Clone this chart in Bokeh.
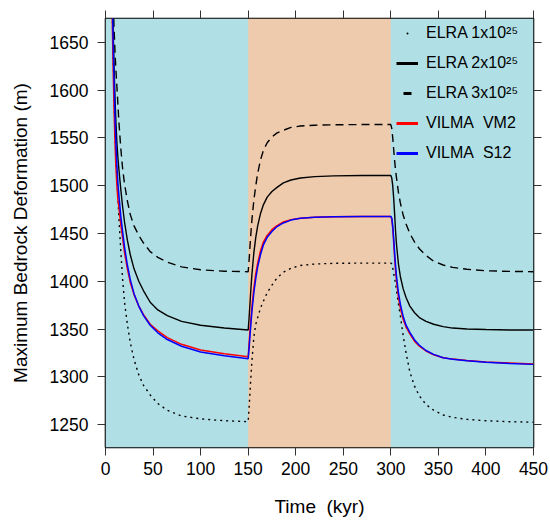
from bokeh.plotting import figure
from bokeh.models import (BoxAnnotation, Legend, LegendItem, LinearAxis,
                          FixedTicker, ColumnDataSource, Range1d)
from bokeh.embed import file_html
from bokeh.resources import INLINE

# ---------------- data ----------------
time_kyr = [6, 7, 8, 9, 10, 11, 12, 13, 14, 16, 18, 20, 23, 26, 30, 35, 40, 47, 55, 65, 80, 100, 125, 150,
            151, 152, 153, 154, 156, 158, 160, 163, 166, 170, 175, 180, 187, 195, 205, 220, 240, 270, 300,
            301, 302, 303, 304, 305, 306, 308, 310, 313, 316, 320, 325, 330, 337, 345, 355, 365, 380, 400, 425, 450]

elra_1e25 = [1760, 1690, 1640, 1595, 1558, 1530, 1508, 1490, 1468, 1433, 1402, 1378, 1355, 1336, 1318, 1302, 1291, 1281, 1272, 1265, 1259, 1256, 1254, 1253,
             1268, 1285, 1302, 1317, 1342, 1355, 1362, 1372, 1379, 1388, 1396, 1403, 1409.5, 1413.5, 1416.5, 1418, 1418.8, 1419, 1419,
             1418, 1414, 1408, 1403, 1397, 1390, 1376, 1364, 1343, 1325, 1305, 1290, 1280, 1271, 1265, 1260, 1257.5, 1255.5, 1254, 1253, 1252.5]

elra_2e25 = [1760, 1710, 1665, 1625, 1592, 1565, 1545, 1530, 1518, 1497, 1478, 1462, 1443, 1428, 1413, 1400, 1390, 1378, 1370, 1364, 1358, 1354, 1351, 1349,
             1362, 1378, 1394, 1408, 1430, 1446, 1458, 1471, 1480, 1488, 1494, 1498, 1503, 1506, 1508, 1509.5, 1510.3, 1510.7, 1510.7,
             1508, 1500, 1487, 1470, 1452, 1438, 1418, 1405, 1392, 1383, 1374, 1367, 1362, 1358, 1355, 1352.5, 1351, 1350, 1349.5, 1349, 1349]

elra_3e25 = [1770, 1730, 1695, 1665, 1640, 1620, 1604, 1586, 1568, 1540, 1518, 1502, 1484, 1470, 1458, 1448, 1440, 1431, 1425, 1420, 1415, 1412, 1410.5, 1410,
             1422, 1438, 1452, 1465, 1485, 1500, 1513, 1527, 1537, 1545, 1551, 1555, 1558, 1561, 1562.5, 1563.3, 1563.8, 1564, 1564,
             1560, 1550, 1538, 1526, 1516, 1508, 1493, 1482, 1469, 1460, 1450, 1441, 1434, 1427, 1421, 1417, 1414.5, 1412.5, 1411, 1410.3, 1410]

vilma_vm2 = [1740, 1680, 1625, 1580, 1545, 1518, 1500, 1486, 1478, 1460, 1445, 1430, 1413, 1399, 1386, 1374, 1365, 1355, 1348, 1341, 1334, 1328, 1324, 1321,
             1335, 1350, 1362, 1374, 1393, 1408, 1419, 1432, 1441, 1448, 1454, 1458, 1462, 1464.5, 1466, 1467, 1467.6, 1467.8, 1467.8,
             1465, 1455, 1440, 1424, 1410, 1400, 1383, 1372, 1360, 1352, 1345, 1337, 1332, 1327, 1323, 1320, 1318.5, 1317, 1315.5, 1314.5, 1313.5]

vilma_s12 = [1760, 1705, 1650, 1610, 1572, 1543, 1521, 1503, 1491, 1469, 1452, 1436, 1417, 1402, 1387, 1374, 1364, 1354, 1346, 1339, 1332, 1326, 1322, 1319,
             1330, 1344, 1357, 1369, 1388, 1403, 1415, 1428, 1438, 1446, 1452, 1457, 1461, 1464, 1466, 1467, 1467.6, 1467.8, 1467.8,
             1466, 1458, 1445, 1430, 1416, 1405, 1388, 1376, 1363, 1354, 1346.5, 1338.5, 1333, 1327.5, 1323.5, 1320, 1318.3, 1316.7, 1315.2, 1314, 1313]

period_edges = [0, 150, 300, 450]
period_colors = ["#B0E0E6", "#EECBAD", "#B0E0E6"]

x_ticks = [0, 50, 100, 150, 200, 250, 300, 350, 400, 450]
y_ticks = [1250, 1300, 1350, 1400, 1450, 1500, 1550, 1600, 1650]

legend_labels = ["ELRA 1x10\u00b2\u2075", "ELRA 2x10\u00b2\u2075", "ELRA 3x10\u00b2\u2075",
                 "VILMA\u00a0\u00a0VM2", "VILMA\u00a0\u00a0S12"]

FONT = "Liberation Sans"

# ---------------- figure ----------------
p = figure(width=550, height=521, output_backend="svg", toolbar_location=None,
           x_range=Range1d(0, 450), y_range=Range1d(1226, 1675),
           min_border_left=105, min_border_right=17, min_border_top=18, min_border_bottom=74,
           x_axis_label="Time\u00a0\u00a0(kyr)", y_axis_label="Maximum Bedrock Deformation (m)")

p.background_fill_color = period_colors[0]
p.border_fill_color = "white"
p.grid.visible = False
p.outline_line_color = "black"
p.outline_line_width = 1.6
p.outline_line_alpha = 1.0

for left, right, col in zip(period_edges[:-1], period_edges[1:], period_colors):
    p.add_layout(BoxAnnotation(left=left, right=right, fill_color=col, fill_alpha=1.0,
                               line_color=None, level="underlay"))

p.xaxis.ticker = FixedTicker(ticks=x_ticks)
p.yaxis.ticker = FixedTicker(ticks=y_ticks)

for ax in (p.xaxis[0], p.yaxis[0]):
    ax.axis_line_color = None
    ax.major_tick_out = 8
    ax.major_tick_in = 0
    ax.major_tick_line_color = "#333333"
    ax.minor_tick_line_color = None
    ax.major_label_text_font = FONT
    ax.major_label_text_font_size = "17.5px"
    ax.major_label_text_color = "black"
    ax.axis_label_text_font = FONT
    ax.axis_label_text_font_size = "19px"
    ax.axis_label_text_font_style = "normal"
    ax.axis_label_text_color = "black"

p.yaxis.major_label_standoff = 9
p.yaxis.axis_label_standoff = 16
p.xaxis.major_label_standoff = 6
p.xaxis.axis_label_standoff = 18

# tick-only axes on top and right (labels not drawn)
for loc, ticks in (("above", x_ticks), ("right", y_ticks)):
    ax = LinearAxis(ticker=FixedTicker(ticks=ticks), axis_line_color=None,
                    major_tick_out=8, major_tick_in=0, major_tick_line_color="#333333",
                    minor_tick_line_color=None, major_label_text_font_size="1px",
                    major_label_text_alpha=0, major_label_standoff=0)
    p.add_layout(ax, loc)

# ---------------- curves ----------------
p.line(time_kyr, elra_1e25, line_color="black", line_width=1.4, line_dash="2 4")
p.line(time_kyr, elra_2e25, line_color="black", line_width=1.4)
p.line(time_kyr, elra_3e25, line_color="black", line_width=1.4, line_dash="8 5")
p.line(time_kyr, vilma_vm2, line_color="red", line_width=1.5)
p.line(time_kyr, vilma_s12, line_color="blue", line_width=1.5)

# ---------------- legend (proxy glyphs, NaN data: nothing drawn in plot) ----------------
nan = float("nan")
proxy = ColumnDataSource(data=dict(x=[nan], y=[nan]))
g_dot = p.scatter("x", "y", source=proxy, marker="dot", size=8, line_color="black", fill_color="black")
g_solid = p.line("x", "y", source=proxy, line_color="black", line_width=3)
g_dash = p.scatter("x", "y", source=proxy, marker="dash", size=8, line_color="black", line_width=3)
g_red = p.line("x", "y", source=proxy, line_color="red", line_width=3)
g_blue = p.line("x", "y", source=proxy, line_color="blue", line_width=3)

legend = Legend(items=[LegendItem(label=lab, renderers=[r]) for lab, r in
                       zip(legend_labels, [g_dot, g_solid, g_dash, g_red, g_blue])],
                location=(291, 284), orientation="vertical",
                glyph_width=22, glyph_height=20, label_height=20, spacing=10,
                label_standoff=8, padding=0, margin=0,
                border_line_color=None, background_fill_alpha=0,
                label_text_font=FONT, label_text_font_size="16px",
                label_text_color="black")
p.add_layout(legend)

open("out.html", "w").write(file_html(p, INLINE))
